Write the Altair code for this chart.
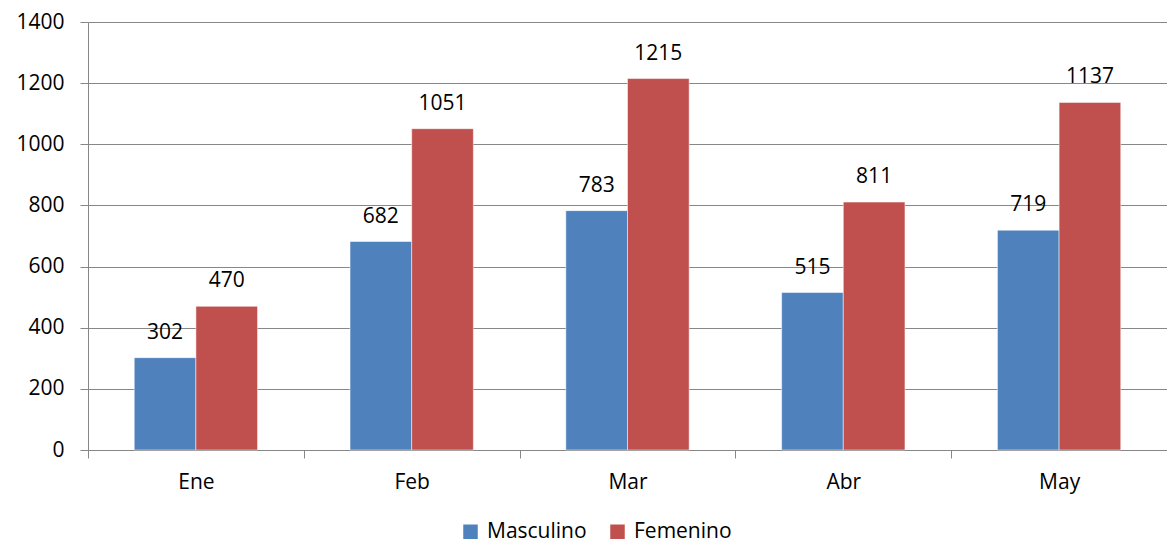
import altair as alt
import pandas as pd

months = ["Ene", "Feb", "Mar", "Abr", "May"]
masculino = [302, 682, 783, 515, 719]
femenino = [470, 1051, 1215, 811, 1137]
series = ["Masculino", "Femenino"]
colors = ["#4F81BD", "#C0504D"]

rows = []
for i, m in enumerate(months):
    rows.append({"mes": m, "serie": "Masculino", "valor": masculino[i]})
    rows.append({"mes": m, "serie": "Femenino", "valor": femenino[i]})
df = pd.DataFrame(rows)

FONT = "Open Sans"
GRID = "#878787"
FS = 21

x = alt.X("mes:N", sort=months, title=None,
          scale=alt.Scale(paddingInner=0, paddingOuter=0),
          axis=alt.Axis(labelAngle=0, tickBand="extent", tickSize=8, tickColor=GRID,
                        domainColor=GRID, labelFont=FONT, labelFontSize=FS,
                        labelColor="#000000", labelPadding=13, grid=False))
xo = alt.XOffset("serie:N", sort=series,
                 scale=alt.Scale(paddingInner=0, paddingOuter=0.75))
y = alt.Y("valor:Q", title=None,
          scale=alt.Scale(domain=[0, 1400], nice=False),
          axis=alt.Axis(values=[0, 200, 400, 600, 800, 1000, 1200, 1400], format="d",
                        tickSize=8, tickColor=GRID, domainColor=GRID, gridColor=GRID,
                        labelFont=FONT, labelFontSize=FS, labelColor="#000000",
                        labelPadding=16))
color = alt.Color("serie:N", sort=series,
                  scale=alt.Scale(domain=series, range=colors),
                  legend=alt.Legend(title=None, orient="none", direction="horizontal",
                                    legendX=372, legendY=499, symbolType="square",
                                    symbolSize=210, symbolStrokeWidth=0,
                                    labelFont=FONT, labelFontSize=FS,
                                    labelColor="#000000", columnPadding=20,
                                    labelOffset=6))

bars = alt.Chart(df).mark_bar(stroke="#FFFFFF", strokeWidth=0.5).encode(
    x=x, xOffset=xo, y=y, color=color)

text = alt.Chart(df).mark_text(font=FONT, fontSize=FS, color="#000000",
                               baseline="bottom", dy=-15).encode(
    x=alt.X("mes:N", sort=months), xOffset=alt.XOffset("serie:N", sort=series),
    y="valor:Q", text="valor:Q")

chart = alt.layer(bars, text).properties(
    width=1079, height=428,
    autosize=alt.AutoSizeParams(type="none"),
    padding={"left": 80, "top": 14, "right": 0, "bottom": 94},
).configure_view(stroke=None).configure_axis(domainWidth=1, tickWidth=1, gridWidth=1)

chart.save("out.html", embed_options={"renderer": "svg", "actions": False})
